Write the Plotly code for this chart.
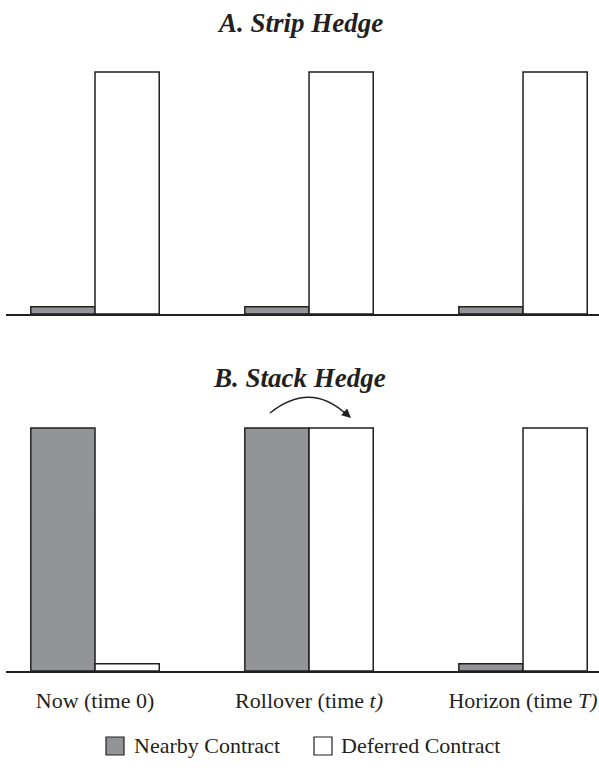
import plotly.graph_objects as go
from plotly.subplots import make_subplots

# ---- data ----
positions = [0, 1, 2]
tick_labels = ["Now (time 0)", "Rollover (time <i>t)</i>", "Horizon (time <i>T)</i>"]
strip_nearby = [0.03, 0.03, 0.03]
strip_deferred = [1.0, 1.0, 1.0]
stack_nearby = [1.0, 1.0, 0.03]
stack_deferred = [0.03, 1.0, 1.0]
series_names = ["Nearby Contract", "Deferred Contract"]
panel_titles = ["<b><i>A. Strip Hedge</i></b>", "<b><i>B. Stack Hedge</i></b>"]

GRAY = "#939497"
EDGE = "#231f20"
FONT = "Liberation Serif"
W, H = 599, 775

fig = make_subplots(rows=2, cols=1)

def add_pair(nearby, deferred, row):
    fig.add_trace(go.Bar(x=positions, y=nearby, name=series_names[0], showlegend=False,
                         marker=dict(color=GRAY, line=dict(color=EDGE, width=1.5))),
                  row=row, col=1)
    fig.add_trace(go.Bar(x=positions, y=deferred, name=series_names[1], showlegend=False,
                         marker=dict(color="white", line=dict(color=EDGE, width=1.5))),
                  row=row, col=1)

add_pair(strip_nearby, strip_deferred, 1)
add_pair(stack_nearby, stack_deferred, 2)

xrange = [-0.416, 2.355]
xdom = [6 / W, 1]
common_x = dict(range=xrange, domain=xdom, showgrid=False, zeroline=False, showline=True,
                linecolor=EDGE, linewidth=1.5, ticks="", fixedrange=True)
fig.update_xaxes(**common_x, showticklabels=False, row=1, col=1)
fig.update_xaxes(**common_x, showticklabels=True, tickvals=positions, ticktext=tick_labels,
                 tickfont=dict(family=FONT, size=22, color="#231f20"), ticklabelstandoff=9,
                 row=2, col=1)

def dom(bottom_px, top_px):
    return [1 - bottom_px / H, 1 - top_px / H]

yr = [0, 1.05]
fig.update_yaxes(range=yr, domain=dom(314, 72 - 0.05 * 242), visible=False, fixedrange=True, row=1, col=1)
fig.update_yaxes(range=yr, domain=dom(671, 428 - 0.05 * 243), visible=False, fixedrange=True, row=2, col=1)

def px(x):
    return x / W

def py(y):
    return 1 - y / H

annotations = [
    dict(text=panel_titles[0], x=0.5, y=py(23), xref="paper", yref="paper",
         showarrow=False, xanchor="center", yanchor="middle",
         font=dict(family=FONT, size=27, color="#231f20")),
    dict(text=panel_titles[1], x=0.5, y=py(378), xref="paper", yref="paper",
         showarrow=False, xanchor="center", yanchor="middle",
         font=dict(family=FONT, size=27, color="#231f20")),
    # arrowhead of rollover arrow
    dict(text="", x=px(351), y=py(418), xref="paper", yref="paper",
         ax=-9, ay=-8, showarrow=True, arrowhead=2, arrowsize=1.3, arrowwidth=1.4,
         arrowcolor=EDGE),
    # legend texts
    dict(text=series_names[0], x=px(132), y=py(745), xref="paper", yref="paper",
         showarrow=False, xanchor="left", yanchor="middle",
         font=dict(family=FONT, size=22, color="#231f20")),
    dict(text=series_names[1], x=px(339), y=py(745), xref="paper", yref="paper",
         showarrow=False, xanchor="left", yanchor="middle",
         font=dict(family=FONT, size=22, color="#231f20")),
]

shapes = [
    dict(type="path", xref="paper", yref="paper",
         path=f"M {px(270)},{py(413)} Q {px(310)},{py(381)} {px(346)},{py(414)}",
         line=dict(color=EDGE, width=1.4)),
    # legend swatches
    dict(type="rect", xref="paper", yref="paper", x0=px(106), x1=px(124), y0=py(737), y1=py(755),
         fillcolor=GRAY, line=dict(color=EDGE, width=1.2)),
    dict(type="rect", xref="paper", yref="paper", x0=px(314), x1=px(332), y0=py(737), y1=py(755),
         fillcolor="white", line=dict(color=EDGE, width=1.2)),
]

fig.update_layout(
    width=W, height=H,
    margin=dict(l=0, r=0, t=0, b=0),
    paper_bgcolor="white", plot_bgcolor="white",
    barmode="group", bargap=0.4, bargroupgap=0,
    annotations=annotations, shapes=shapes,
    showlegend=False, hovermode=False,
    font=dict(family=FONT),
)

fig.write_html("out.html", config=dict(displayModeBar=False, staticPlot=False),
               post_script="document.body.style.margin='0';document.body.style.overflow='hidden';")
